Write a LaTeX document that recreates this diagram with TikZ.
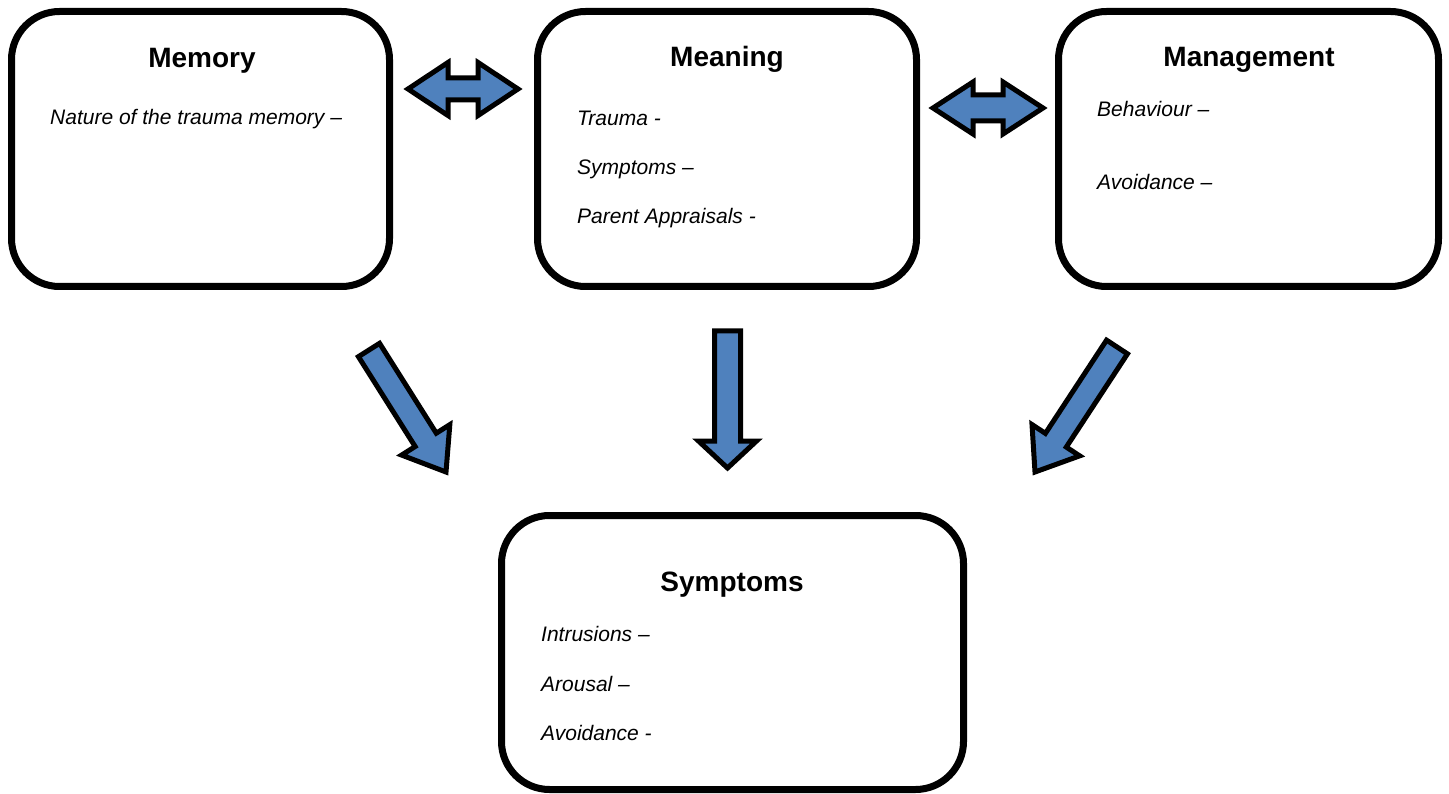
\documentclass[tikz,border=0pt]{standalone}
\usepackage{fontspec}
\setmainfont{Liberation Sans}
\usetikzlibrary{calc}
\definecolor{ptsdBlue}{HTML}{4F81BD}

% #1 tail, #2 tip, #3 half shaft, #4 half head, #5 head length
\newcommand{\fatarrow}[5]{%
  \draw[blk] ($(#1)!#3!90:(#2)$)
    -- ($($(#2)!#5!(#1)$)!#3!90:(#2)$) -- ($($(#2)!#5!(#1)$)!#4!90:(#2)$)
    -- (#2)
    -- ($($(#2)!#5!(#1)$)!#4!-90:(#2)$) -- ($($(#2)!#5!(#1)$)!#3!-90:(#2)$)
    -- ($(#1)!#3!-90:(#2)$) -- cycle;}
\newcommand{\fatdouble}[5]{%
  \draw[blk] (#1)
    -- ($($(#1)!#5!(#2)$)!#4!90:(#2)$) -- ($($(#1)!#5!(#2)$)!#3!90:(#2)$)
    -- ($($(#2)!#5!(#1)$)!#3!90:(#2)$) -- ($($(#2)!#5!(#1)$)!#4!90:(#2)$)
    -- (#2)
    -- ($($(#2)!#5!(#1)$)!#4!-90:(#2)$) -- ($($(#2)!#5!(#1)$)!#3!-90:(#2)$)
    -- ($($(#1)!#5!(#2)$)!#3!-90:(#2)$) -- ($($(#1)!#5!(#2)$)!#4!-90:(#2)$)
    -- cycle;}

\begin{document}
\begin{tikzpicture}[x=1pt,y=-1pt,
  box/.style={draw,line width=7pt,rounded corners=48pt,inner sep=0pt,minimum width=378pt,minimum height=275pt},
  ttl/.style={font=\bfseries\fontsize{28}{34}\selectfont,anchor=base,inner sep=0pt},
  itm/.style={font=\itshape\fontsize{21}{25}\selectfont,anchor=base west,inner sep=0pt},
  blk/.style={draw,fill=ptsdBlue,line width=5pt,line join=miter}]
  \useasboundingbox (0,0) rectangle (1449,794);
  \node[box] (mem) at (200.5,149) {};
  \node[box,minimum width=379pt] (mean) at (727,149) {};
  \node[box,minimum width=380pt] (mgmt) at (1248.5,149) {};
  \node[box,minimum width=462pt,minimum height=274pt] (symp) at (732.5,652.5) {};

  \node[ttl] (memT) at (202,68) {Memory};
  \node[itm] (memA) at (50,125) {Nature of the trauma memory --};
  \node[ttl] (meanT) at (727,67) {Meaning};
  \node[itm] (meanA) at (577,126) {Trauma -};
  \node[itm] (meanB) at (577,175) {Symptoms --};
  \node[itm] (meanC) at (577,224) {Parent Appraisals -};
  \node[ttl] (mgmtT) at (1249,67) {Management};
  \node[itm] (mgmtA) at (1097,117) {Behaviour --};
  \node[itm] (mgmtB) at (1097,190) {Avoidance --};
  \node[ttl] (sympT) at (732,591) {Symptoms};
  \node[itm] (sympA) at (541,641) {Intrusions --};
  \node[itm] (sympB) at (541,691) {Arousal --};
  \node[itm] (sympC) at (541,740) {Avoidance -};

  \coordinate (l1) at ($(mem.east)+(15,-60)$);
  \coordinate (r1) at ($(mean.west)+(-16,-60)$);
  \coordinate (l2) at ($(mean.east)+(13,-41)$);
  \coordinate (r2) at ($(mgmt.west)+(-12,-41)$);
  \coordinate (t1) at ($(mem.south)+(168.5,60)$);
  \coordinate (h1) at ($(symp.north)+(-286.5,-40)$);
  \coordinate (t2) at ($(mean.south)+(0.5,41)$);
  \coordinate (h2) at ($(symp.north)+(-5,-44)$);
  \coordinate (t3) at ($(mgmt.south)+(-131.5,57)$);
  \coordinate (h3) at ($(symp.north)+(302.5,-40)$);

  \fatdouble{l1}{r1}{11pt}{26.5pt}{40pt}
  \fatdouble{l2}{r2}{13pt}{26pt}{40pt}
  \fatarrow{t1}{h1}{12.5pt}{28.5pt}{38pt}
  \fatarrow{t2}{h2}{13pt}{29pt}{27pt}
  \fatarrow{t3}{h3}{12.5pt}{28.5pt}{38pt}
\end{tikzpicture}
\end{document}
